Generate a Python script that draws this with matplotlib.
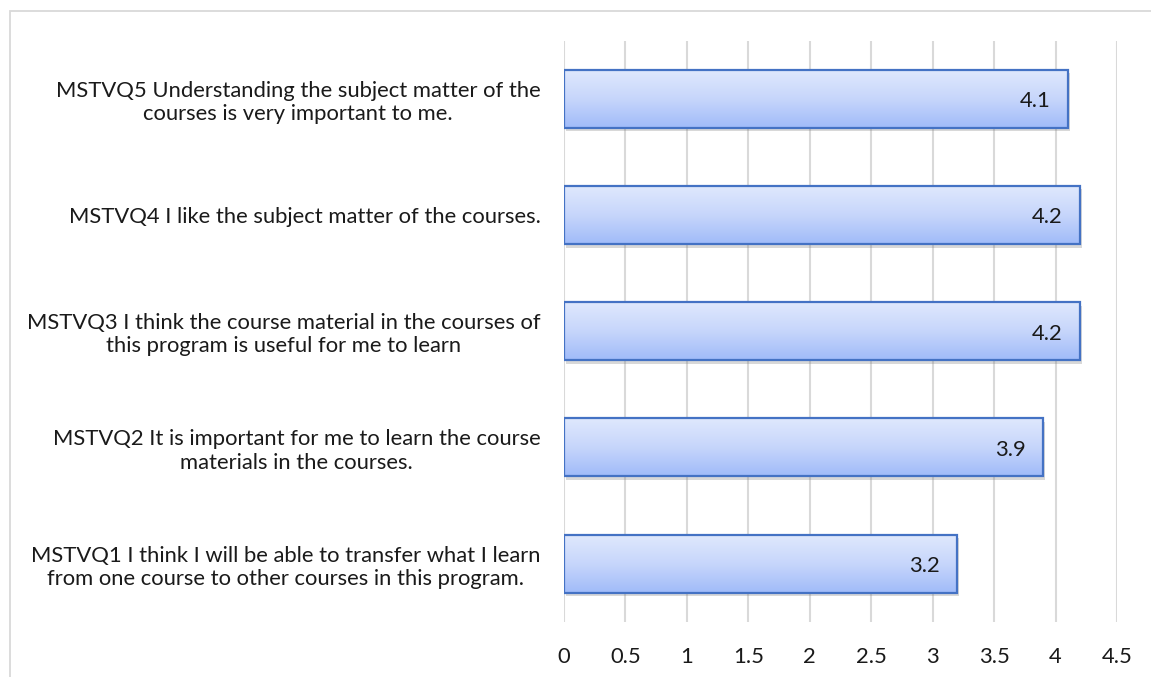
import numpy as np
import matplotlib.pyplot as plt
from matplotlib.colors import LinearSegmentedColormap
from matplotlib.patches import Rectangle
import matplotlib.patheffects as pe

# dati
domande = [
    "MSTVQ1 I think I will be able to transfer what I learn\nfrom one course to other courses in this program.",
    "MSTVQ2 It is important for me to learn the course\nmaterials in the courses.",
    "MSTVQ3 I think the course material in the courses of\nthis program is useful for me to learn",
    "MSTVQ4 I like the subject matter of the courses.",
    "MSTVQ5 Understanding the subject matter of the\ncourses is very important to me.",
]
medie = [3.2, 3.9, 4.2, 4.2, 4.1]
tick_x = [0, 0.5, 1, 1.5, 2, 2.5, 3, 3.5, 4, 4.5]

plt.rcParams['font.family'] = ['Lato', 'DejaVu Sans']
colore_testo = '#1a1a1a'
dim = 15.8

fig = plt.figure(figsize=(11.51, 6.77), dpi=100)
ax = fig.add_axes([0.490, 0.0817, 0.4805, 0.8582])

# cornice grigia del grafico (esce dall'immagine a destra e in basso)
fig.patches.append(Rectangle((10 / 1151, -0.1), 1.2, 1 - 11 / 677 + 0.1,
                             transform=fig.transFigure, fill=False,
                             edgecolor='#d9d9d9', linewidth=1.3))

y = np.arange(len(domande))

# barre di base con l'ombra (l'ombra resta visibile solo fuori dalla barra)
base = ax.barh(y, medie, height=0.5, facecolor='#c7d6fb', edgecolor='none', zorder=2)
for b in base:
    b.set_path_effects([pe.SimplePatchShadow(offset=(1.5, -2.5), shadow_rgbFace='#7f7f7f', alpha=0.3),
                        pe.Normal()])

# riempimento sfumato dal chiaro (in alto) allo scuro (in basso)
cmap = LinearSegmentedColormap.from_list('sfumato', ['#a0bbf9', '#c7d6fb', '#e0e9fd'])
grad = np.linspace(0, 1, 256).reshape(-1, 1)
for b in base:
    x0, y0 = b.get_x(), b.get_y()
    w, h = b.get_width(), b.get_height()
    img = ax.imshow(grad, cmap=cmap, extent=(x0, x0 + w, y0, y0 + h),
                    origin='lower', aspect='auto', zorder=2.5)
    img.set_clip_path(b)

# bordo delle barre
ax.barh(y, medie, height=0.5, facecolor='none', edgecolor='#4472c4',
        linewidth=1.6, zorder=3)

ax.set_xlim(0, 4.5)
ax.set_ylim(-0.5, len(domande) - 0.5)
ax.set_xticks(tick_x)
ax.set_xticklabels([f'{t:g}' for t in tick_x], fontsize=dim, color=colore_testo)
ax.set_yticks(y)
ax.set_yticklabels(domande, fontsize=dim, color=colore_testo,
                   multialignment='center', linespacing=1.2)
ax.tick_params(axis='both', length=0)
ax.tick_params(axis='y', pad=17)
ax.tick_params(axis='x', pad=18)

ax.grid(axis='x', color='#d9d9d9', linewidth=1.5, zorder=0)
ax.set_axisbelow(True)
for s in ax.spines.values():
    s.set_visible(False)

# etichette dei valori dentro la barra
for val, yy in zip(medie, y):
    ax.text(val - 0.14, yy - 0.02, f'{val:g}', ha='right', va='center',
            fontsize=dim, color=colore_testo, zorder=4)

fig.savefig('out.png', dpi=100)
